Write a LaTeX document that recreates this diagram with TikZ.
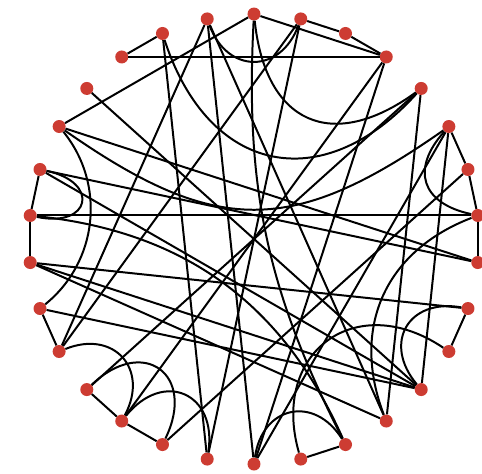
\documentclass[tikz,border=0pt]{standalone}
\usepackage{xcolor}
\usepackage{tikz}
\definecolor{dotRed}{HTML}{CD3C32}
\tikzset{
  vertex/.style={circle,fill=dotRed,draw=none,inner sep=0pt,minimum size=0.39cm},
  edge/.style={draw=black,line width=1.7pt}
}
\begin{document}
\begin{tikzpicture}
  \useasboundingbox (-7.62,-7.02) rectangle (6.84,7.17);
  % thirty vertices on the ring, clockwise from the top
  \foreach \i in {0,...,29}
    \node[vertex] (n\i) at ({90-12*\i}:6.75) {};
  % straight chords
  \foreach \a/\b in {27/28,1/2,2/3,5/6,6/7,7/8,9/10,13/14,17/18,18/19,20/21,22/23,23/24,27/3,0/3,25/0,26/11,28/16,29/20,29/12,29/15,1/16,1/20,3/18,3/15,4/12,4/19,22/9,22/11,22/12,5/11,5/15,7/23,25/8,24/8,21/11,6/17,24/11}
    \draw[edge] (n\a) -- (n\b);
  % curved chords
  \draw[edge] (n29) to[bend right=70,looseness=1.5] (n1);
  \draw[edge] (n0) to[bend right=60,looseness=1.5] (n4);
  \draw[edge] (n0) to[bend right=15] (n13);
  \draw[edge] (n23) to[bend right=90,looseness=3] (n24);
  \draw[edge] (n21) to[bend right=45] (n25);
  \draw[edge] (n18) to[bend right=70,looseness=1.5] (n20);
  \draw[edge] (n17) to[bend right=80,looseness=2] (n19);
  \draw[edge] (n13) to[bend right=70,looseness=1.5] (n15);
  \draw[edge] (n5) to[bend right=60,looseness=1.5] (n7);
  \draw[edge] (n10) to[bend right=70,looseness=1.5] (n14);
  \draw[edge] (n25) to[bend right=35,looseness=1.25] (n5);
  \draw[edge] (n28) to[bend right=60,looseness=1.4] (n4);
  \draw[edge] (n16) to[bend right=75,looseness=1.7] (n18);
  \draw[edge] (n7) to[bend right=45,looseness=1.1] (n12);
  \draw[edge] (n9) to[bend right=70,looseness=1.55] (n11);
  \draw[edge] (n13) to[bend right=30] (n23);
\end{tikzpicture}
\end{document}
